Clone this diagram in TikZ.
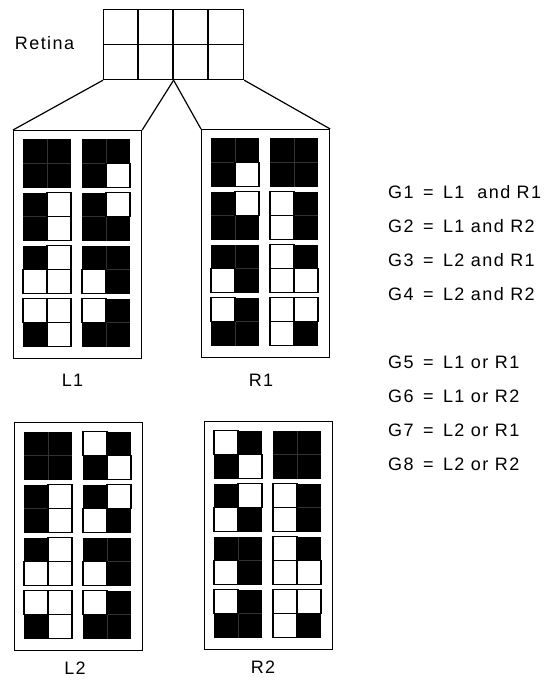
\documentclass[tikz,border=0pt]{standalone}
\usepackage{fontspec}
\setmainfont{Liberation Sans}[LetterSpace=8]
\usetikzlibrary{positioning}
% one 2x2 tile: digits TL TR BL BR, 1 = black, 0 = white
\newcommand\tile[4]{%
	\fill (0,0) rectangle (48,48);
	\draw[black!80,line width=.4pt] (24,0) -- (24,48) (0,24) -- (48,24);
	\ifnum#1=0 \path[wcell] (0,0) rectangle (24,24);\fi
	\ifnum#2=0 \path[wcell] (24,0) rectangle (48,24);\fi
	\ifnum#3=0 \path[wcell] (0,24) rectangle (24,48);\fi
	\ifnum#4=0 \path[wcell] (24,24) rectangle (48,48);\fi
}
\begin{document}
\begin{tikzpicture}[x=1pt, y=-1pt, font=\fontsize{18}{21}\selectfont, line join=miter]
	\tikzset{
	panel/.style={draw,line width=1.2pt,minimum width=128pt,minimum height=228pt,inner sep=0pt,anchor=north west},
	wcell/.style={fill=white,draw=black,line width=1.2pt},
	link/.style={line width=1.2pt}
	}
	\useasboundingbox (0,0) rectangle (550,687);
	% retina
	\node[draw,line width=1.2pt,minimum width=140pt,minimum height=70pt,inner sep=0pt,anchor=north west] (retina) at (103,9) {};
	\foreach \k in {1,2,3}{
	\draw[link] (retina.north west) ++(35*\k,0) -- ++(0,70);
	}
	\draw[link] (retina.west) -- (retina.east);
	\node (rlabel) at (44.5,43) {Retina};
	% panels
	\node[panel] (L1) at (13,130) {};
	\node[panel] (R1) at (201,129) {};
	\node[panel] (L2) at (14,422) {};
	\node[panel] (R2) at (204,421) {};
	\foreach \pan/\pats in {L1/{1111,1110,1010,1011,1000,1101,0010,0111},
	R1/{1110,1111,1011,0101,1101,0100,0111,0001},
	L2/{1111,0110,1010,1001,1000,1101,0010,0111},
	R2/{0110,1111,1001,0101,1101,0100,0111,0001}}{
	\foreach \p [count=\i from 0] in \pats{
	\pgfmathsetmacro\cx{10+59*mod(\i,2)}
	\pgfmathsetmacro\cy{9.5+53*div(\i,2)}
	\begin{scope}[shift={(\pan.north west)},shift={(\cx,\cy)}]
	\expandafter\tile\p
	\end{scope}
	}
	}
	\draw[link] (retina.south west) -- (L1.north west);
	\draw[link] (retina.south) -- (L1.north east);
	\draw[link] (retina.south) -- (R1.north west);
	\draw[link] (retina.south east) -- (R1.north east);
	\node (l1lab) at (72.5,380) {L1};
	\node (r1lab) at (261,380) {R1};
	\node (l2lab) at (75,668) {L2};
	\node (r2lab) at (263,667) {R2};
	% gates
	\foreach \g/\y/\t in {1/192/L1\ \ and R1,2/226/L1 and R2,3/260/L2 and R1,4/294/L2 and R2,
	5/362/L1 or R1,6/396/L1 or R2,7/430/L2 or R1,8/464/L2 or R2}{
	\node[anchor=west,inner sep=0pt] (g\g) at (388,\y) {G\g\hspace{3pt} = \hspace{3pt}\t};
	}
\end{tikzpicture}
\end{document}
